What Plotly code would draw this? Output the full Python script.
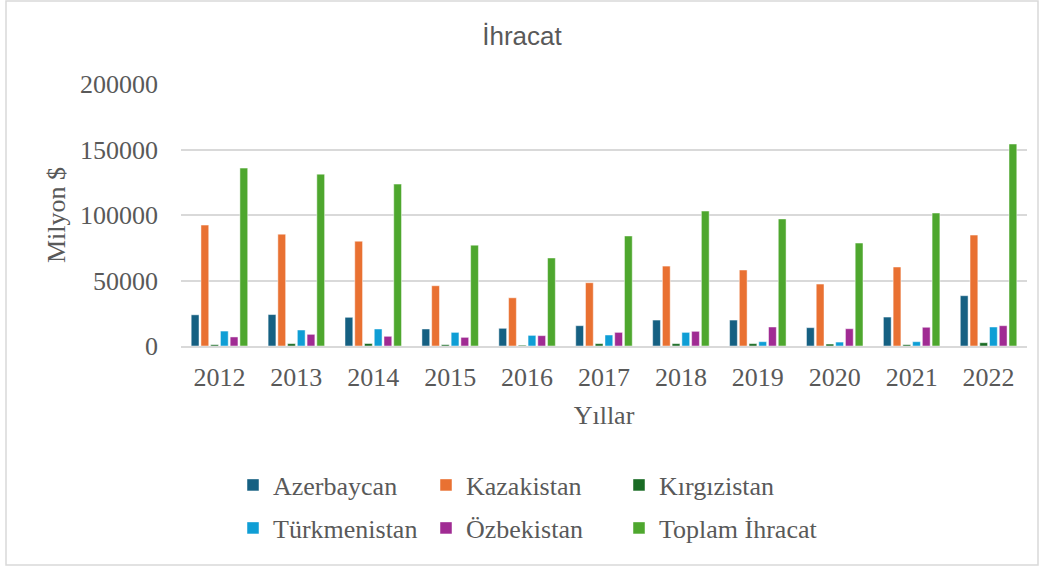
import plotly.graph_objects as go

years = ["2012", "2013", "2014", "2015", "2016", "2017", "2018", "2019", "2020", "2021", "2022"]
azerbaycan = [23800, 24000, 21900, 13000, 13500, 15500, 19800, 19800, 14000, 22100, 38400]
kazakistan = [92300, 85400, 80000, 46000, 36800, 48300, 61000, 58000, 47300, 60300, 84700]
kirgizistan = [1000, 1800, 1900, 1000, 600, 1800, 1800, 1800, 1500, 1000, 2500]
turkmenistan = [11400, 12200, 13000, 10400, 8100, 8400, 10400, 3300, 3000, 3300, 14500]
ozbekistan = [6900, 8900, 7400, 6600, 7900, 10400, 11200, 14500, 13200, 14300, 15500]
toplam = [135800, 131200, 123600, 77000, 67200, 84000, 103000, 97000, 78600, 101500, 154200]

series = [
    ("Azerbaycan", azerbaycan, "#156082", "legend"),
    ("Kazakistan", kazakistan, "#e97132", "legend"),
    ("Kırgızistan", kirgizistan, "#196b24", "legend"),
    ("Türkmenistan", turkmenistan, "#0f9ed5", "legend2"),
    ("Özbekistan", ozbekistan, "#a02b93", "legend2"),
    ("Toplam İhracat", toplam, "#4ea72e", "legend3"),
]

fig = go.Figure()
for name, vals, color, leg in series:
    fig.add_trace(go.Bar(x=years, y=vals, name=name, legend=leg,
                         marker=dict(color=color, line=dict(color="rgba(255,255,255,0.6)", width=0.8))))

serif = "Liberation Serif, Times New Roman, serif"
L, R, T, B = 181, 17, 84, 224
PW = 1044 - L - R
PH = 570 - T - B

def px_x(x):
    return (x - L) / PW

def px_y(y):
    return (570 - B - y) / PH

legend_common = dict(orientation="h", xanchor="left", yanchor="middle",
                     font=dict(size=26, color="#595959", family=serif),
                     itemwidth=30, tracegroupgap=0, bgcolor="rgba(0,0,0,0)")

LX = 233
fig.update_layout(
    width=1044, height=570,
    margin=dict(l=L, r=R, t=T, b=B),
    paper_bgcolor="white", plot_bgcolor="white",
    barmode="group", bargap=0.24, bargroupgap=0.2,
    title=dict(text="İhracat", x=0.5, xanchor="center", y=1 - 36 / 570, yanchor="middle",
               font=dict(family="Liberation Sans, Arial, sans-serif", size=26, color="#595959")),
    font=dict(family=serif, color="#595959"),
    xaxis=dict(title=dict(text="Yıllar", font=dict(size=26, color="#595959"), standoff=15),
               tickfont=dict(size=26, color="#595959"), ticklabelstandoff=7,
               showline=True, linecolor="#d9d9d9", linewidth=2, ticks="", showgrid=False),
    yaxis=dict(title=dict(text="Milyon $", font=dict(size=26, color="#595959"), standoff=6),
               range=[0, 200000], dtick=50000, tickformat="d",
               tickfont=dict(size=26, color="#595959"), ticklabelstandoff=22,
               showgrid=True, gridcolor="#d9d9d9", gridwidth=1.5, zeroline=False, ticks=""),
    legend=dict(x=px_x(LX), y=px_y(485), entrywidth=148, entrywidthmode="pixels", **legend_common),
    legend2=dict(x=px_x(LX), y=px_y(528), entrywidth=148, entrywidthmode="pixels", **legend_common),
    legend3=dict(x=px_x(LX + 2 * 193), y=px_y(528), **legend_common),
    shapes=[dict(type="rect", xref="paper", yref="paper",
                 x0=px_x(6), x1=px_x(1038), y0=px_y(565), y1=px_y(1),
                 line=dict(color="#d9d9d9", width=1.5), fillcolor="rgba(0,0,0,0)", layer="below")],
)

fig.write_html("out.html", config={"displayModeBar": False},
               post_script="document.body.style.margin='0';")
